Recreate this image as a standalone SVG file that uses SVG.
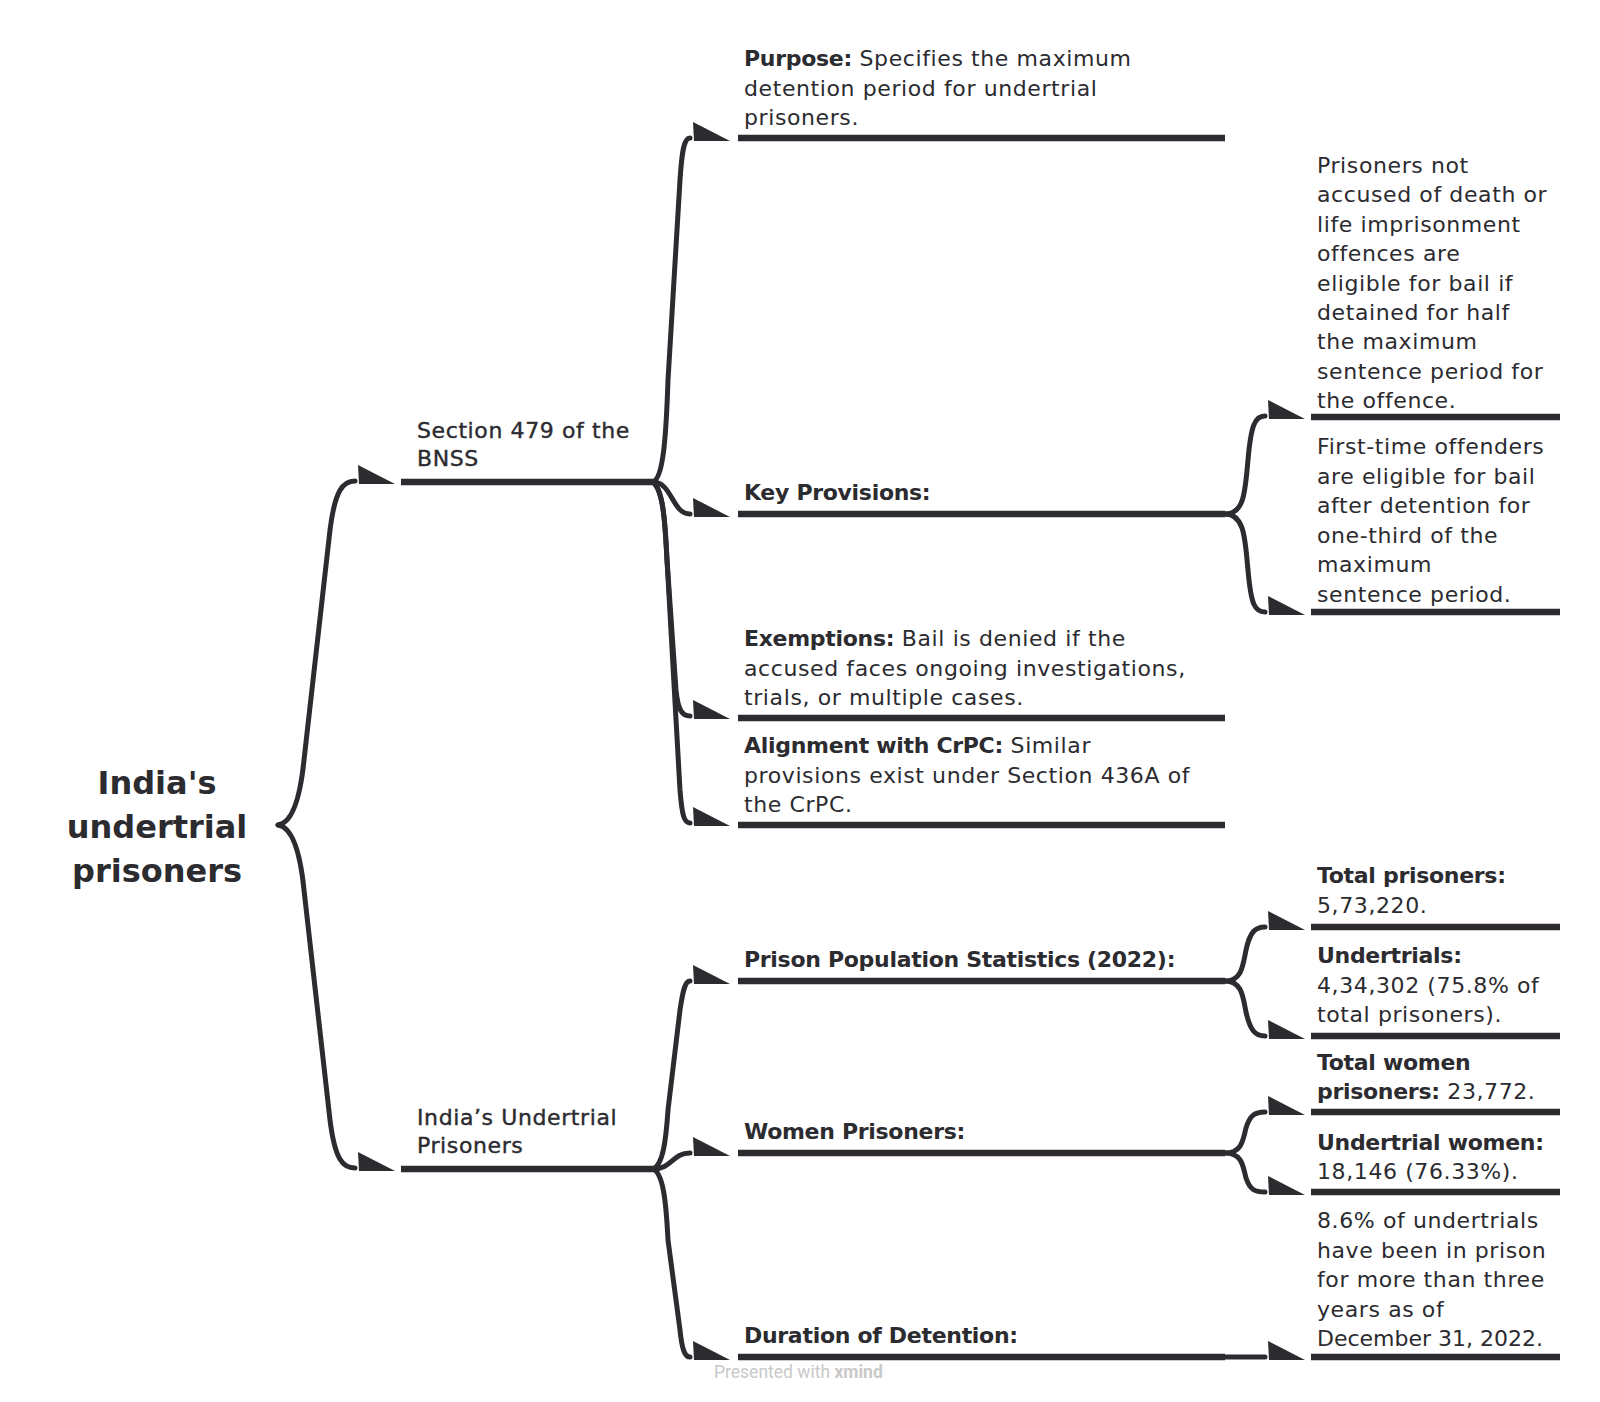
<svg xmlns="http://www.w3.org/2000/svg" xmlns:xlink="http://www.w3.org/1999/xlink" width="1600" height="1402" viewBox="0 0 1600 1402">
<style>
.t{font-family:"DejaVu Sans",sans-serif;font-size:22px;fill:#2b2b30;letter-spacing:0.6px}
.b{font-weight:bold;letter-spacing:-0.3px}
.m{stroke:#2b2b30;stroke-width:0.4px}
.n{letter-spacing:0px}
.root{font-family:"DejaVu Sans",sans-serif;font-size:32px;font-weight:bold;fill:#2b2b30;text-anchor:middle}
.ul{stroke:#2b2b30;stroke-width:6.5;fill:none}
.c{fill:none;stroke:#2b2b30;stroke-width:5;stroke-linecap:round}
.ah{fill:#2b2b30}
.wm{font-family:Roboto,"Liberation Sans",sans-serif;font-size:17.5px;fill:#c9c9c9}
</style>
<defs>
<path id="ah" class="ah" d="M0,-16 L37,3 L1,3 Z"/>
</defs>
<rect width="1600" height="1402" fill="#ffffff"/>

<g id="connectors">
<path class="c" d="M278,825 C292,823 300,800 304,760 L330,530 C335,490 343,481 355,481"/>
<path class="c" d="M278,825 C292,827 300,850 304,890 L330,1120 C335,1160 343,1168 355,1168"/>
<use href="#ah" x="358" y="481"/>
<use href="#ah" x="358" y="1168"/>
<path class="c" d="M653,482 C663,478 666,440 668,380 L680,180 C682,150 684,138 690,138"/>
<path class="c" d="M653,482 C672,482 672,514 690,514"/>
<path class="c" d="M653,482 C663,490 665,520 667,560 L676,690 C678,710 682,716 690,716"/>
<path class="c" d="M653,482 C663,490 665,520 667,560 L680,790 C682,815 684,823 690,823"/>
<use href="#ah" x="693" y="138"/>
<use href="#ah" x="693" y="514"/>
<use href="#ah" x="693" y="716"/>
<use href="#ah" x="693" y="823"/>
<path class="c" d="M653,1169 C663,1165 666,1140 668,1110 L680,1010 C683,990 685,981 690,981"/>
<path class="c" d="M653,1169 C672,1169 672,1153 690,1153"/>
<path class="c" d="M653,1169 C663,1173 666,1200 668,1240 L680,1330 C682,1350 685,1357 690,1357"/>
<use href="#ah" x="693" y="981"/>
<use href="#ah" x="693" y="1153"/>
<use href="#ah" x="693" y="1357"/>
<path class="c" d="M1225,514 C1245,514 1245,490 1248,460 C1251,425 1255,416 1265,416"/>
<path class="c" d="M1225,514 C1245,514 1245,540 1248,570 C1251,605 1255,612 1265,612"/>
<use href="#ah" x="1268" y="416"/>
<use href="#ah" x="1268" y="612"/>
<path class="c" d="M1225,981 C1242,981 1243,965 1246,950 C1250,932 1255,927 1265,927"/>
<path class="c" d="M1225,981 C1242,981 1243,997 1246,1012 C1250,1030 1255,1036 1265,1036"/>
<use href="#ah" x="1268" y="927"/>
<use href="#ah" x="1268" y="1036"/>
<path class="c" d="M1225,1153 C1242,1153 1243,1140 1246,1128 C1250,1115 1255,1112 1265,1112"/>
<path class="c" d="M1225,1153 C1242,1153 1243,1166 1246,1178 C1250,1190 1255,1192 1265,1192"/>
<use href="#ah" x="1268" y="1112"/>
<use href="#ah" x="1268" y="1192"/>
<path class="c" d="M1225,1357 L1265,1357"/>
<use href="#ah" x="1268" y="1357"/>
</g>

<g id="root">
<text class="root" x="157" y="794">India's</text>
<text class="root" x="157" y="838">undertrial</text>
<text class="root" x="157" y="882">prisoners</text>
</g>

<g id="section479">
<line class="ul" x1="401" y1="482" x2="655" y2="482"/>
<text class="t m" x="417" y="438">Section 479 of the</text>
<text class="t m" x="417" y="466">BNSS</text>
</g>

<g id="undertrial-prisoners">
<line class="ul" x1="401" y1="1169" x2="655" y2="1169"/>
<text class="t m" x="417" y="1125">India’s Undertrial</text>
<text class="t m" x="417" y="1153">Prisoners</text>
</g>

<g id="purpose">
<line class="ul" x1="738" y1="138" x2="1225" y2="138"/>
<text class="t" x="744" y="66"><tspan class="b">Purpose:</tspan> Specifies the maximum</text>
<text class="t" x="744" y="96">detention period for undertrial</text>
<text class="t" x="744" y="125">prisoners.</text>
</g>

<g id="key-provisions">
<line class="ul" x1="738" y1="514" x2="1225" y2="514"/>
<text class="t" x="744" y="500"><tspan class="b">Key Provisions:</tspan></text>
</g>

<g id="exemptions">
<line class="ul" x1="738" y1="718" x2="1225" y2="718"/>
<text class="t" x="744" y="646"><tspan class="b">Exemptions:</tspan> Bail is denied if the</text>
<text class="t" x="744" y="676">accused faces ongoing investigations,</text>
<text class="t" x="744" y="705">trials, or multiple cases.</text>
</g>

<g id="alignment">
<line class="ul" x1="738" y1="825" x2="1225" y2="825"/>
<text class="t" x="744" y="753"><tspan class="b">Alignment with CrPC:</tspan> Similar</text>
<text class="t" x="744" y="783">provisions exist under Section 436A of</text>
<text class="t" x="744" y="812">the CrPC.</text>
</g>

<g id="not-accused">
<line class="ul" x1="1311" y1="417" x2="1560" y2="417"/>
<text class="t" x="1317" y="173">Prisoners not</text>
<text class="t" x="1317" y="202.4">accused of death or</text>
<text class="t" x="1317" y="231.8">life imprisonment</text>
<text class="t" x="1317" y="261.2">offences are</text>
<text class="t" x="1317" y="290.6">eligible for bail if</text>
<text class="t" x="1317" y="320">detained for half</text>
<text class="t" x="1317" y="349.4">the maximum</text>
<text class="t" x="1317" y="378.8">sentence period for</text>
<text class="t" x="1317" y="408">the offence.</text>
</g>

<g id="first-time">
<line class="ul" x1="1311" y1="612" x2="1560" y2="612"/>
<text class="t" x="1317" y="454">First-time offenders</text>
<text class="t" x="1317" y="483.5">are eligible for bail</text>
<text class="t" x="1317" y="513">after detention for</text>
<text class="t" x="1317" y="542.5">one-third of the</text>
<text class="t" x="1317" y="572">maximum</text>
<text class="t" x="1317" y="601.5">sentence period.</text>
</g>

<g id="prison-population">
<line class="ul" x1="738" y1="981" x2="1225" y2="981"/>
<text class="t" x="744" y="967"><tspan class="b">Prison Population Statistics (2022):</tspan></text>
</g>

<g id="women-prisoners">
<line class="ul" x1="738" y1="1153" x2="1225" y2="1153"/>
<text class="t" x="744" y="1139"><tspan class="b">Women Prisoners:</tspan></text>
</g>

<g id="duration">
<line class="ul" x1="738" y1="1357" x2="1225" y2="1357"/>
<text class="t" x="744" y="1343"><tspan class="b">Duration of Detention:</tspan></text>
</g>

<g id="total-prisoners">
<line class="ul" x1="1311" y1="927" x2="1560" y2="927"/>
<text class="t" x="1317" y="883"><tspan class="b">Total prisoners:</tspan></text>
<text class="t" x="1317" y="912.5">5,73,220.</text>
</g>

<g id="undertrials">
<line class="ul" x1="1311" y1="1036" x2="1560" y2="1036"/>
<text class="t" x="1317" y="963"><tspan class="b">Undertrials:</tspan></text>
<text class="t" x="1317" y="992.5">4,34,302 (75.8% of</text>
<text class="t" x="1317" y="1022">total prisoners).</text>
</g>

<g id="total-women">
<line class="ul" x1="1311" y1="1112" x2="1560" y2="1112"/>
<text class="t" x="1317" y="1069.5"><tspan class="b">Total women</tspan></text>
<text class="t" x="1317" y="1099"><tspan class="b">prisoners:</tspan> 23,772.</text>
</g>

<g id="undertrial-women">
<line class="ul" x1="1311" y1="1192" x2="1560" y2="1192"/>
<text class="t" x="1317" y="1149.5"><tspan class="b">Undertrial women:</tspan></text>
<text class="t" x="1317" y="1179">18,146 (76.33%).</text>
</g>

<g id="detention-duration">
<line class="ul" x1="1311" y1="1357" x2="1560" y2="1357"/>
<text class="t" x="1317" y="1228">8.6% of undertrials</text>
<text class="t" x="1317" y="1257.5">have been in prison</text>
<text class="t" x="1317" y="1287">for more than three</text>
<text class="t" x="1317" y="1316.5">years as of</text>
<text class="t n" x="1317" y="1346">December 31, 2022.</text>
</g>

<text class="wm" x="714" y="1378">Presented with <tspan font-weight="bold">xmind</tspan></text>
</svg>
